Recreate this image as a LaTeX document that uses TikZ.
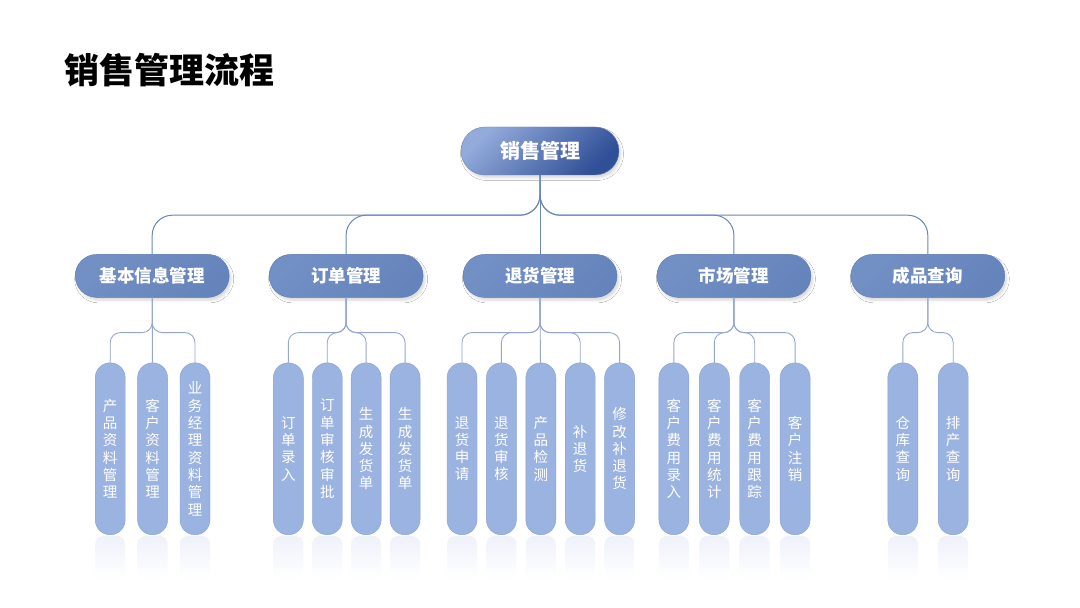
\documentclass[tikz,border=0pt]{standalone}
\usepackage{fontspec}
\setmainfont{Noto Sans CJK SC}
\usetikzlibrary{positioning, shadows.blur}

\definecolor{rootlight}{HTML}{93ABDB}
\definecolor{rootdark}{HTML}{2F4F96}
\definecolor{midlight}{HTML}{7390C5}
\definecolor{middark}{HTML}{6584BB}
\definecolor{midline}{HTML}{5C79B0}
\definecolor{leaffill}{HTML}{9BB3E0}
\definecolor{leafline}{HTML}{88A1D2}
\definecolor{trunkline}{HTML}{6A86BC}
\definecolor{twigline}{HTML}{95A7CF}
\definecolor{mirror}{HTML}{E3E9F6}

\begin{document}
\begin{tikzpicture}[
  x=1pt, y=1pt,
  node distance=10pt,
  rootbox/.style={
    rectangle, rounded corners=24pt, draw=rootdark!70,
    minimum width=158pt, minimum height=48pt, inner sep=0pt,
    top color=rootlight, bottom color=rootdark, shading angle=45,
    text=white, font=\fontsize{20}{24}\selectfont\bfseries,
    blur shadow={shadow xshift=2pt, shadow yshift=-3pt, shadow blur radius=2.5pt, shadow opacity=15}
  },
  branch/.style={
    rectangle, rounded corners=21.5pt, draw=midline,
    minimum width=154pt, minimum height=43pt, inner sep=0pt,
    top color=midlight, bottom color=middark, shading angle=45,
    text=white, font=\fontsize{17.5}{21}\selectfont\bfseries,
    blur shadow={shadow xshift=2pt, shadow yshift=-3pt, shadow blur radius=2.5pt, shadow opacity=15}
  },
  leaf/.style={
    rectangle, rounded corners=15pt, draw=leafline, fill=leaffill,
    minimum width=30pt, minimum height=172pt, inner sep=0pt,
    align=center, text=white, font=\fontsize{14.5}{17.3}\selectfont
  },
  trunk/.style={draw=trunkline, line width=1pt, rounded corners=20pt},
  twig/.style={draw=twigline, line width=0.9pt, rounded corners=10pt}
]
  \useasboundingbox (0,0) rectangle (1080,608);
  \fill[white] (0,0) rectangle (1080,608);

  % Title
  \node[anchor=west, inner sep=0pt, font=\fontsize{35}{40}\selectfont\bfseries] (title) at (64,538) {销售管理流程};

  % Top and branch nodes
  \node[rootbox] (sale) at (540,457) {销售管理};
  \node[branch, below=79pt of sale] (refund) {退货管理};
  \node[branch, left=39.5pt of refund] (order) {订单管理};
  \node[branch, left=39.5pt of order] (info) {基本信息管理};
  \node[branch, right=39.5pt of refund] (market) {市场管理};
  \node[branch, right=39.5pt of market] (goods) {成品查询};

  % Leaves: basic info
  \node[leaf, below=65pt of info, xshift=-42pt] (info1) {产\\品\\资\\料\\管\\理};
  \node[leaf, right=12pt of info1] (info2) {客\\户\\资\\料\\管\\理};
  \node[leaf, right=12pt of info2] (info3) {业\\务\\经\\理\\资\\料\\管\\理};

  % Leaves: orders
  \node[leaf, below=65pt of order, xshift=-57.75pt] (order1) {订\\单\\录\\入};
  \node[leaf, right=8.5pt of order1] (order2) {订\\单\\审\\核\\审\\批};
  \node[leaf, right=8.5pt of order2] (order3) {生\\成\\发\\货\\单};
  \node[leaf, right=8.5pt of order3] (order4) {生\\成\\发\\货\\单};

  % Leaves: returns
  \node[leaf, below=65pt of refund, xshift=-78pt] (refund1) {退\\货\\申\\请};
  \node[leaf, right=9pt of refund1] (refund2) {退\\货\\审\\核};
  \node[leaf, right=9pt of refund2] (refund3) {产\\品\\检\\测};
  \node[leaf, right=9pt of refund3] (refund4) {补\\退\\货};
  \node[leaf, right=9pt of refund4] (refund5) {修\\改\\补\\退\\货};

  % Leaves: market
  \node[leaf, below=65pt of market, xshift=-60pt] (market1) {客\\户\\费\\用\\录\\入};
  \node[leaf, right=10pt of market1] (market2) {客\\户\\费\\用\\统\\计};
  \node[leaf, right=10pt of market2] (market3) {客\\户\\费\\用\\跟\\踪};
  \node[leaf, right=10pt of market3] (market4) {客\\户\\注\\销};

  % Leaves: finished goods
  \node[leaf, below=65pt of goods, xshift=-25pt] (goods1) {仓\\库\\查\\询};
  \node[leaf, right=20pt of goods1] (goods2) {排\\产\\查\\询};

  % Reflections under the leaves
  \foreach \n in {info1,info2,info3,order1,order2,order3,order4,refund1,refund2,refund3,refund4,refund5,market1,market2,market3,market4,goods1,goods2}
    \shade[top color=mirror!60!white, middle color=mirror, bottom color=white, rounded corners=8pt]
      ([xshift=-15pt,yshift=-1pt]\n.south) rectangle ([xshift=15pt,yshift=-44pt]\n.south);

  % Top connectors
  \draw[trunk] (sale.south) -- ++(0,-40) -| (info.north);
  \draw[trunk] (sale.south) -- ++(0,-40) -| (order.north);
  \draw[trunk] (sale) -- (refund);
  \draw[trunk] (sale.south) -- ++(0,-40) -| (market.north);
  \draw[trunk] (sale.south) -- ++(0,-40) -| (goods.north);

  % Leaf connectors
  \draw[twig] (info.south) -- ++(0,-35) -| (info1.north);
  \draw[twig] (info) -- (info2);
  \draw[twig] (info.south) -- ++(0,-35) -| (info3.north);

  \draw[twig] (order.south) -- ++(0,-35) -| (order1.north);
  \draw[twig] (order.south) -- ++(0,-35) -| (order2.north);
  \draw[twig] (order.south) -- ++(0,-35) -| (order3.north);
  \draw[twig] (order.south) -- ++(0,-35) -| (order4.north);

  \draw[twig] (refund.south) -- ++(0,-35) -| (refund1.north);
  \draw[twig] (refund.south) -- ++(0,-35) -| (refund2.north);
  \draw[twig] (refund) -- (refund3);
  \draw[twig] (refund.south) -- ++(0,-35) -| (refund4.north);
  \draw[twig] (refund.south) -- ++(0,-35) -| (refund5.north);

  \draw[twig] (market.south) -- ++(0,-35) -| (market1.north);
  \draw[twig] (market.south) -- ++(0,-35) -| (market2.north);
  \draw[twig] (market.south) -- ++(0,-35) -| (market3.north);
  \draw[twig] (market.south) -- ++(0,-35) -| (market4.north);

  \draw[twig] (goods.south) -- ++(0,-35) -| (goods1.north);
  \draw[twig] (goods.south) -- ++(0,-35) -| (goods2.north);
\end{tikzpicture}
\end{document}
